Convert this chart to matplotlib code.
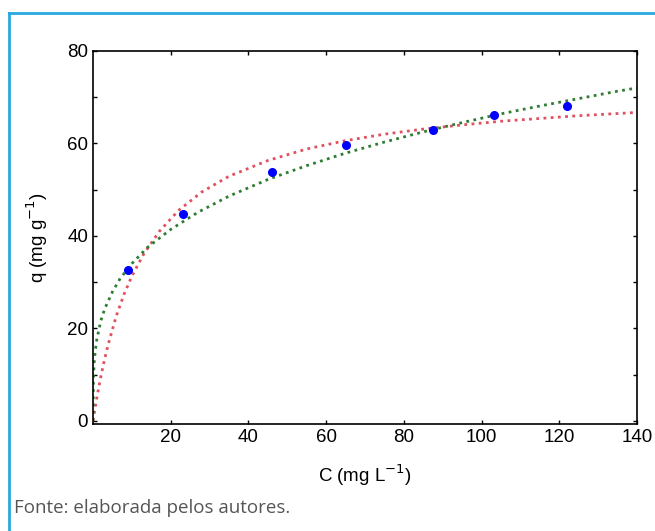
import matplotlib.pyplot as plt
import numpy as np
from matplotlib.ticker import MultipleLocator

# experimental points
c_exp = [9.0, 23.2, 46.1, 65.1, 87.5, 103.2, 122.0]
q_exp = [32.6, 44.8, 53.9, 59.6, 62.8, 66.2, 68.2]

# green dotted curve
c_green = [0, 0.1, 0.3, 0.6, 1, 2, 3, 5, 7, 10, 14, 20, 27, 35, 45, 55, 65, 75, 85, 95, 105, 115, 125, 135, 140]
q_green = [0, 9.2, 12.6, 15.3, 17.7, 21.6, 24.2, 27.9, 30.8, 34.0, 37.5, 41.4, 45.1, 48.6, 52.2, 55.2,
           57.9, 60.3, 62.5, 64.5, 66.4, 68.1, 69.7, 71.3, 72.0]

# red dotted curve
c_red = [0, 1, 2, 3, 4, 6, 8, 10, 13, 17, 22, 28, 35, 45, 55, 65, 75, 85, 95, 105, 115, 125, 140]
q_red = [0, 5.1, 9.5, 13.4, 16.8, 22.7, 27.4, 31.3, 36.0, 40.9, 45.5, 49.5, 52.9, 56.3, 58.8, 60.6,
         62.0, 63.1, 64.0, 64.8, 65.4, 66.0, 66.7]

plt.rcParams['font.family'] = ['Liberation Sans', 'DejaVu Sans']

fig = plt.figure(figsize=(6.55, 5.31), dpi=100)
ax = fig.add_axes([0.142, 0.2015, 0.8305, 0.7025])

ax.plot(c_red, q_red, linestyle=(0, (1, 1.6)), color='#e0505e', linewidth=2)
ax.plot(c_green, q_green, linestyle=(0, (1, 1.6)), color='#2e7d32', linewidth=2)
ax.plot(c_exp, q_exp, 'o', color='#0000ff', markersize=5.5, zorder=5)

ax.set_xlim(0, 140)
ax.set_ylim(-0.7, 80)
ax.xaxis.set_major_locator(MultipleLocator(20))
ax.yaxis.set_major_locator(MultipleLocator(20))
ax.yaxis.set_minor_locator(MultipleLocator(10))
ax.tick_params(which='both', direction='in', top=True, right=True, length=3, width=1, labelsize=13.5)
ax.tick_params(which='minor', length=3)
ax.set_xticks([20, 40, 60, 80, 100, 120, 140])
for s in ax.spines.values():
    s.set_linewidth(1.2)

ax.set_xlabel('C (mg L$^{-1}$)', fontsize=13.5, labelpad=12)
ax.set_ylabel('q (mg g$^{-1}$)', fontsize=13.5, labelpad=12)

# frame around the figure
fig.add_artist(plt.Line2D([9 / 655, 1], [1 - 13 / 531, 1 - 13 / 531], color='#29a8e0', linewidth=2))
fig.add_artist(plt.Line2D([9 / 655, 9 / 655], [0, 1 - 13 / 531], color='#29a8e0', linewidth=2))

fig.text(14 / 655, 1 - 508 / 531, 'Fonte: elaborada pelos autores.', fontsize=13.5,
         color='#555555', family=['Open Sans', 'DejaVu Sans'], va='center')

fig.savefig('out.png', dpi=100)
